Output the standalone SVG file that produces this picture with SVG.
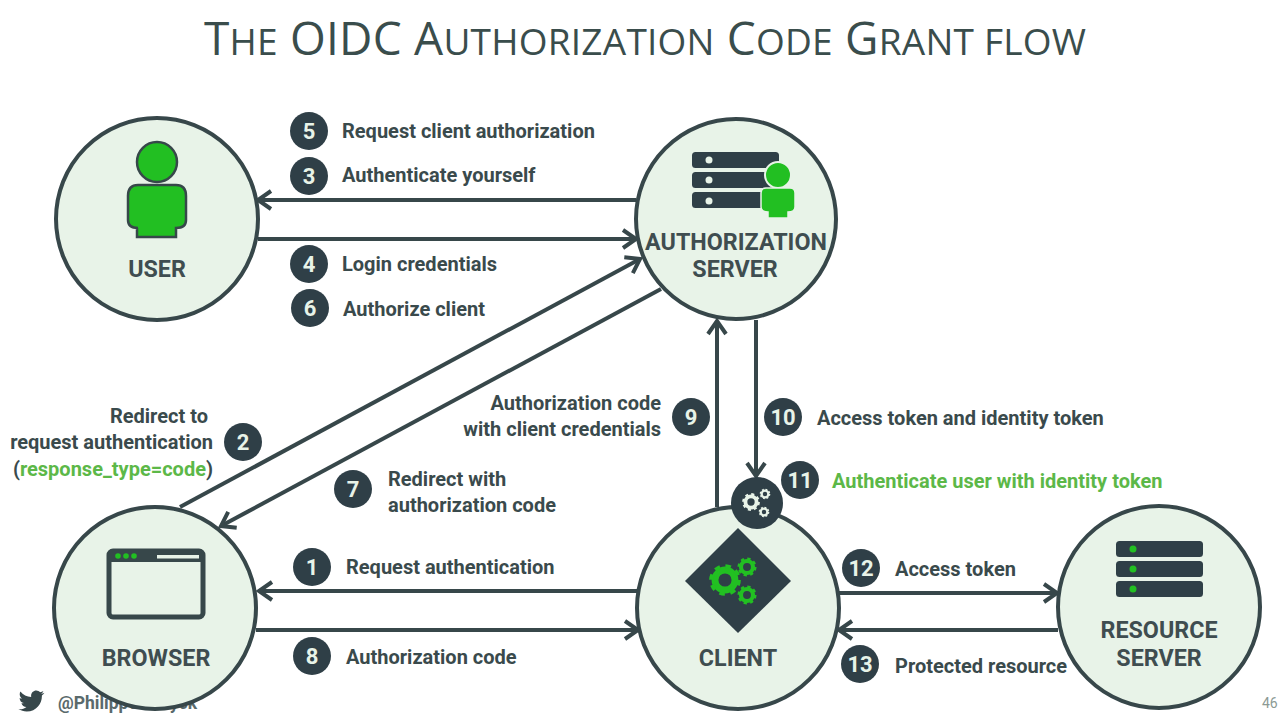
<svg xmlns="http://www.w3.org/2000/svg" width="1280" height="720" viewBox="0 0 1280 720">
<style>
text{font-family:Roboto,"Liberation Sans",sans-serif;fill:#37474a}
.n{fill:#e8f3e8;stroke:#37474a;stroke-width:4}
.nl{font-size:23.3px;font-weight:700;text-anchor:middle;fill:#3f4d50}
.l{font-size:20px;font-weight:700;fill:#3a4a4c}
.e{text-anchor:end}
.b{fill:#2f3f47}
.bt{font-size:22px;font-weight:700;fill:#e8f3e8;text-anchor:middle}
.g{fill:#22bf22}
.c{fill:none;stroke:#37474a;stroke-width:4;marker-end:url(#a)}
.sc{font-size:37px}
</style>
<defs>
<marker id="a" markerUnits="userSpaceOnUse" markerWidth="24" markerHeight="24" refX="18" refY="12" orient="auto">
<path d="M5 3 L18 12 L5 21" fill="none" stroke="#37474a" stroke-width="4"/>
</marker>
<g id="gear"><circle r="8" fill="none" stroke="currentColor" stroke-width="5.5"/><circle r="11" fill="none" stroke="currentColor" stroke-width="3.4" stroke-dasharray="4.3 4.34"/></g>
<rect id="sv" width="87" height="16" rx="3.5" class="b"/>
</defs>

<text id="title" x="645" y="55" font-size="46" text-anchor="middle" textLength="882" style="font-family:'Open Sans','Liberation Sans',sans-serif;fill:#3a4d4c">T<tspan class="sc">HE</tspan> OIDC A<tspan class="sc">UTHORIZATION</tspan> C<tspan class="sc">ODE</tspan> G<tspan class="sc">RANT FLOW</tspan></text>

<g id="connectors">
<path class="c" d="M636 200H258"/>
<path class="c" d="M258 239H636"/>
<path class="c" d="M180 507L640 259"/>
<path class="c" d="M661 289L221 526"/>
<path class="c" d="M717 507V321"/>
<path class="c" d="M756 320V476"/>
<path class="c" d="M638 591H259"/>
<path class="c" d="M256 630H638"/>
<path class="c" d="M839 593H1057"/>
<path class="c" d="M1058 630H839"/>
</g>

<g id="footer">
<path fill="#37474a" d="M46 694c-1 .5-2 .7-3 .8 1-.7 2-1.700 2.400-2.900-1 .6-2.100 1-3.300 1.300-1-1-2.300-1.700-3.800-1.700-2.900 0-5.200 2.400-5.200 5.300 0 .4 0 .8.100 1.200-4.300-.2-8.200-2.300-10.800-5.500-.4.800-.7 1.700-.7 2.700 0 1.800.9 3.400 2.300 4.400-.9 0-1.700-.3-2.400-.7 0 2.600 1.800 4.700 4.200 5.200-.4.100-.9.200-1.400.2-.3 0-.7 0-1-.1.700 2.100 2.600 3.700 5 3.700-1.800 1.400-4.100 2.300-6.600 2.300-.4 0-.9 0-1.300-.1 2.400 1.500 5.200 2.400 8.200 2.400 9.800 0 15.200-8.200 15.200-15.300v-.7c1-.8 1.900-1.700 2.600-2.800z" transform="translate(-2,-1)"/>
<text x="58" y="709" font-size="17.500" font-weight="700" style="fill:#5a6a6c">@PhilippeDeRyck</text>
<text x="1262" y="708" font-size="14" style="fill:#8c9a94">46</text>
</g>

<g id="user">
<circle class="n" cx="157" cy="219" r="101"/>
<circle cx="157" cy="162" r="20" class="g" stroke="#37474a" stroke-width="2.500"/>
<path class="g" stroke="#37474a" stroke-width="2.500" d="M138 185H176Q186 185 186 196V220Q186 228 176 228H176V237H137V228H138Q128 228 128 220V196Q128 185 138 185Z"/>
<text class="nl" x="157" y="277">USER</text>
</g>

<g id="authorization-server">
<circle class="n" cx="736" cy="219" r="100"/>
<use href="#sv" x="692" y="152"/><use href="#sv" x="692" y="172"/><use href="#sv" x="692" y="192"/>
<circle cx="709" cy="160" r="3.500" fill="#e8f3e8"/><circle cx="709" cy="180" r="3.500" fill="#e8f3e8"/><circle cx="709" cy="201" r="3.500" fill="#e8f3e8"/>
<circle cx="778" cy="175" r="13" class="g" stroke="#e8f3e8" stroke-width="2"/>
<path class="g" stroke="#e8f3e8" stroke-width="1.500" d="M766 188H790Q795 188 795 193V207Q795 212 788 212V218H768V212Q761 212 761 207V193Q761 188 766 188Z"/>
<text class="nl" x="736" y="250">AUTHORIZATION</text>
<text class="nl" x="735" y="277">SERVER</text>
</g>

<g id="browser">
<circle class="n" cx="155" cy="608" r="101"/>
<rect x="109" y="551" width="94" height="66" rx="4" fill="#e8f3e8" stroke="#37474a" stroke-width="5"/>
<rect x="109" y="551" width="94" height="11" fill="#37474a"/>
<circle cx="118" cy="556" r="2.800" class="g"/><circle cx="126" cy="556" r="2.800" class="g"/><circle cx="134" cy="556" r="2.800" class="g"/>
<rect x="157" y="555" width="42" height="3.500" fill="#e8f3e8"/>
<text class="nl" x="156" y="666">BROWSER</text>
</g>

<g id="client">
<circle class="n" cx="738" cy="608" r="101"/>
<path class="b" d="M738 528L791 581L738 633L685 581Z"/>
<g style="color:#22bf22">
<use href="#gear" transform="translate(725,580) scale(1.25)"/>
<use href="#gear" transform="translate(747,567) scale(.75)"/>
<use href="#gear" transform="translate(747,595) scale(.75)"/>
</g>
<text class="nl" x="738" y="666">CLIENT</text>
</g>

<g id="client-badge">
<circle cx="757" cy="503" r="26" class="b"/>
<g style="color:#e8f3e8">
<use href="#gear" transform="translate(751,502) scale(.7)"/>
<use href="#gear" transform="translate(765,494) scale(.42)"/>
<use href="#gear" transform="translate(764,512) scale(.42)"/>
</g>
</g>

<g id="resource-server">
<circle class="n" cx="1159" cy="607" r="101"/>
<use href="#sv" x="1116" y="541"/><use href="#sv" x="1116" y="561"/><use href="#sv" x="1116" y="581"/>
<circle cx="1133" cy="549" r="3.500" class="g"/><circle cx="1133" cy="569" r="3.500" class="g"/><circle cx="1133" cy="589" r="3.500" class="g"/>
<text class="nl" x="1159" y="638">RESOURCE</text>
<text class="nl" x="1159" y="666">SERVER</text>
</g>

<g id="labels">
<circle class="b" cx="309" cy="131" r="19"/><text class="bt" x="309" y="139">5</text>
<text class="l" x="342" y="138">Request client authorization</text>
<circle class="b" cx="309" cy="176" r="19"/><text class="bt" x="309" y="184">3</text>
<text class="l" x="342" y="182">Authenticate yourself</text>
<circle class="b" cx="309" cy="264" r="19"/><text class="bt" x="309" y="272">4</text>
<text class="l" x="342" y="271">Login credentials</text>
<circle class="b" cx="310" cy="308" r="19"/><text class="bt" x="310" y="316">6</text>
<text class="l" x="343" y="316">Authorize client</text>

<circle class="b" cx="243" cy="442" r="19"/><text class="bt" x="243" y="450">2</text>
<text class="l e" x="208" y="423">Redirect to</text>
<text class="l e" x="213" y="449">request authentication</text>
<text class="l e" x="213" y="476">(<tspan style="fill:#5cb848">response_type=code</tspan>)</text>

<circle class="b" cx="353" cy="489" r="19"/><text class="bt" x="353" y="497">7</text>
<text class="l" x="388" y="486">Redirect with</text>
<text class="l" x="388" y="512">authorization code</text>

<circle class="b" cx="691" cy="417" r="19"/><text class="bt" x="691" y="425">9</text>
<text class="l e" x="661" y="410">Authorization code</text>
<text class="l e" x="661" y="436">with client credentials</text>

<circle class="b" cx="783" cy="417" r="19"/><text class="bt" x="783" y="425">10</text>
<text class="l" x="817" y="425">Access token and identity token</text>

<circle class="b" cx="800" cy="480" r="19"/><text class="bt" x="800" y="488">11</text>
<text class="l" x="832" y="488" style="fill:#5cb848">Authenticate user with identity token</text>

<circle class="b" cx="312" cy="567" r="19"/><text class="bt" x="312" y="575">1</text>
<text class="l" x="346" y="574">Request authentication</text>
<circle class="b" cx="312" cy="656" r="19"/><text class="bt" x="312" y="664">8</text>
<text class="l" x="346" y="664">Authorization code</text>

<circle class="b" cx="861" cy="568" r="19"/><text class="bt" x="861" y="576">12</text>
<text class="l" x="895" y="576">Access token</text>
<circle class="b" cx="860" cy="664" r="19"/><text class="bt" x="860" y="672">13</text>
<text class="l" x="895" y="673">Protected resource</text>
</g>
</svg>
